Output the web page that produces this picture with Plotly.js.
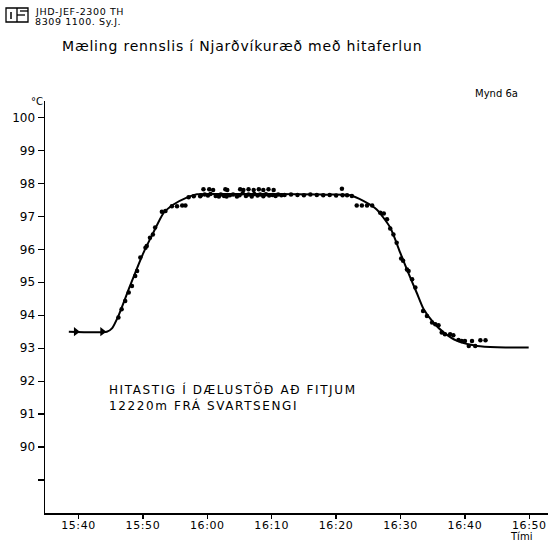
<!DOCTYPE html>
<html>
<head>
<meta charset="utf-8">
<script src="https://cdn.plot.ly/plotly-3.0.1.min.js"></script>
<style>
html,body{margin:0;padding:0;background:#fff;}
#chart{width:560px;height:546px;}
.gtitle{letter-spacing:0.8px;}
.annotation[data-index="5"] text{letter-spacing:1.6px;}
.annotation[data-index="0"] text,.annotation[data-index="1"] text{letter-spacing:0.6px;}
.xtick text{letter-spacing:0.6px;}
</style>
</head>
<body>
<div id="chart"></div>
<script>
// Time in minutes after 15:00, temperature in °C
var curveTime = [38.5, 44.4, 45.2, 46.2, 48.0, 50.1, 51.6, 53.2, 54.75, 56.8, 58.4, 62, 70, 78, 82.2, 84.3, 86.3, 88.4, 89.95, 91.2, 92.5, 93.6, 95.1, 96.7, 98.8, 101.9, 105, 109.9];
var curveTemp = [93.5, 93.5, 93.6, 93.98, 94.89, 95.9, 96.5, 97.1, 97.36, 97.57, 97.67, 97.68, 97.68, 97.66, 97.64, 97.46, 97.21, 96.66, 95.9, 95.29, 94.69, 94.18, 93.78, 93.48, 93.22, 93.07, 93.03, 93.02];

var pointTime = [46.2, 46.7, 47.25, 47.8, 48.3, 48.8, 49.1, 49.6, 50.4, 50.6, 51.1, 51.55, 51.9, 52.95, 53.5, 54.5, 55.3, 56.1, 56.6, 57.1, 57.9, 58.9,
  59.0, 59.6, 60.1, 60.5, 61.3, 61.8, 62.1, 62.6, 63.0, 63.5, 64.0, 64.6, 65.0, 65.5, 66.0, 66.4, 66.9, 67.3, 67.8, 68.2, 68.7, 69.1, 69.6, 70.1, 70.6, 71.0, 71.5, 72.0, 73.0, 74.0, 75.0, 76.0, 77.0, 78.0, 79.0, 80.0, 81.0,
  59.4, 60.3, 60.9, 62.8, 63.1, 65.1, 65.6, 66.4, 67.2, 68.0, 68.7, 69.5, 70.3, 80.9,
  81.7, 82.45, 83.2, 84.0, 84.8, 85.6, 86.85, 87.4, 87.9, 88.4, 88.9, 89.4, 90.1, 90.4, 91.0, 91.25, 91.8, 92.3,
  93.5, 94.1, 94.9, 95.4, 95.9, 96.4, 96.9, 97.7, 98.2, 99.0, 99.5, 100.0, 100.6, 101.1, 101.6, 102.4, 103.2];
var pointTemp = [93.93, 94.18, 94.43, 94.69, 94.89, 95.19, 95.34, 95.75, 96.05, 96.1, 96.35, 96.45, 96.66, 97.14, 97.16, 97.31, 97.31, 97.33, 97.33, 97.58, 97.61, 97.61,
  97.64, 97.66, 97.63, 97.68, 97.62, 97.6, 97.66, 97.62, 97.6, 97.64, 97.66, 97.6, 97.64, 97.7, 97.62, 97.66, 97.6, 97.68, 97.63, 97.66, 97.61, 97.67, 97.63, 97.65, 97.62, 97.66, 97.64, 97.65, 97.66, 97.65, 97.64, 97.66, 97.65, 97.64, 97.65, 97.63, 97.64,
  97.82, 97.82, 97.8, 97.82, 97.8, 97.82, 97.8, 97.82, 97.8, 97.82, 97.8, 97.82, 97.8, 97.84,
  97.64, 97.62, 97.33, 97.33, 97.33, 97.33, 97.11, 97.09, 96.91, 96.63, 96.45, 96.2, 95.72, 95.65, 95.39, 95.34, 95.09, 94.84,
  94.13, 93.98, 93.78, 93.73, 93.7, 93.48, 93.42, 93.42, 93.39, 93.25, 93.22, 93.22, 93.07, 93.22, 93.07, 93.24, 93.24];

var arrowTime = [39.6, 43.7];
var arrowTemp = [93.5, 93.5];

var xTickVals = [40, 50, 60, 70, 80, 90, 100, 110];
var xTickText = ['15:40', '15:50', '16:00', '16:10', '16:20', '16:30', '16:40', '16:50'];
var yTickVals = [89, 90, 91, 92, 93, 94, 95, 96, 97, 98, 99, 100];
var yTickText = ['', '90', '91', '92', '93', '94', '95', '96', '97', '98', '99', '100'];

var FONT = 'DejaVu Sans, Liberation Sans, sans-serif';

var traces = [
  {x: curveTime, y: curveTemp, mode: 'lines', type: 'scatter',
   line: {color: '#000', width: 2, shape: 'spline', smoothing: 0.6}, hoverinfo: 'skip'},
  {x: pointTime, y: pointTemp, mode: 'markers', type: 'scatter',
   marker: {color: '#000', size: 4.5}, hoverinfo: 'skip'},
  {x: arrowTime, y: arrowTemp, mode: 'markers', type: 'scatter',
   marker: {color: '#000', size: 8, symbol: 'triangle-right'}, hoverinfo: 'skip'}
];

var layout = {
  width: 560, height: 546,
  margin: {l: 45, r: 12, t: 101, b: 33},
  paper_bgcolor: '#fff', plot_bgcolor: '#fff',
  showlegend: false,
  font: {family: FONT, color: '#000', size: 11},
  title: {text: 'Mæling rennslis í Njarðvíkuræð með hitaferlun', x: 62/560, xanchor: 'left',
          xref: 'container', y: 1 - 46/546, yanchor: 'middle', yref: 'container',
          font: {family: FONT, size: 14, color: '#000'}},
  xaxis: {range: [34.8, 112.9], tickmode: 'array', tickvals: xTickVals, ticktext: xTickText,
          showgrid: false, zeroline: false, showline: true, linecolor: '#000', linewidth: 1.5,
          ticks: 'outside', ticklen: 4, tickwidth: 1.3, tickcolor: '#000', ticklabelstandoff: -3,
          tickfont: {family: FONT, size: 11, color: '#000'}},
  yaxis: {range: [88, 100.5], tickmode: 'array', tickvals: yTickVals, ticktext: yTickText,
          showgrid: false, zeroline: false, showline: true, linecolor: '#000', linewidth: 1.5,
          ticks: 'outside', ticklen: 6, tickwidth: 1.3, tickcolor: '#000',
          tickfont: {family: FONT, size: 12, color: '#000'}},
  annotations: [
    {text: 'JHD-JEF-2300 TH', xref: 'paper', yref: 'paper', x: -12/503, y: (513-11)/412,
     xanchor: 'left', yanchor: 'middle', align: 'left', showarrow: false, font: {family: FONT, size: 9.5}},
    {text: '8309 1100. Sy.J.', xref: 'paper', yref: 'paper', x: -12/503, y: (513-22)/412,
     xanchor: 'left', yanchor: 'middle', align: 'left', showarrow: false, font: {family: FONT, size: 9.5}},
    {text: 'Mynd 6a', xref: 'paper', yref: 'paper', x: (473-45)/503, y: (513-94)/412,
     xanchor: 'left', yanchor: 'middle', showarrow: false, font: {family: FONT, size: 10}},
    {text: '°C', xref: 'paper', yref: 'paper', x: (37-45)/503, y: (513-101)/412,
     xanchor: 'center', yanchor: 'middle', showarrow: false, font: {family: FONT, size: 10}},
    {text: 'Tími', xref: 'paper', yref: 'paper', x: (521-45)/503, y: (513-536)/412,
     xanchor: 'center', yanchor: 'middle', showarrow: false, font: {family: FONT, size: 10}},
    {text: 'HITASTIG Í DÆLUSTÖÐ AÐ FITJUM<br>12220m FRÁ SVARTSENGI', xref: 'paper', yref: 'paper',
     x: (107-45)/503, y: (513-397)/412, xanchor: 'left', yanchor: 'middle', align: 'left',
     showarrow: false, font: {family: FONT, size: 12}}
  ],
  shapes: [
    {type: 'rect', xref: 'paper', yref: 'paper', x0: (6-45)/503, x1: (28-45)/503,
     y0: (513-22)/412, y1: (513-8)/412, line: {color: '#000', width: 1.3}},
    {type: 'line', xref: 'paper', yref: 'paper', x0: (17-45)/503, x1: (17-45)/503,
     y0: (513-22)/412, y1: (513-8)/412, line: {color: '#000', width: 1.3}},
    {type: 'line', xref: 'paper', yref: 'paper', x0: (11-45)/503, x1: (11-45)/503,
     y0: (513-19)/412, y1: (513-12)/412, line: {color: '#000', width: 1.5}},
    {type: 'line', xref: 'paper', yref: 'paper', x0: (17-45)/503, x1: (25-45)/503,
     y0: (513-15)/412, y1: (513-15)/412, line: {color: '#000', width: 1.3}},
    {type: 'line', xref: 'paper', yref: 'paper', x0: (20-45)/503, x1: (28-45)/503,
     y0: (513-11)/412, y1: (513-11)/412, line: {color: '#000', width: 1.3}}
  ]
};

Plotly.newPlot('chart', traces, layout, {displayModeBar: false, staticPlot: true});
</script>
</body>
</html>
